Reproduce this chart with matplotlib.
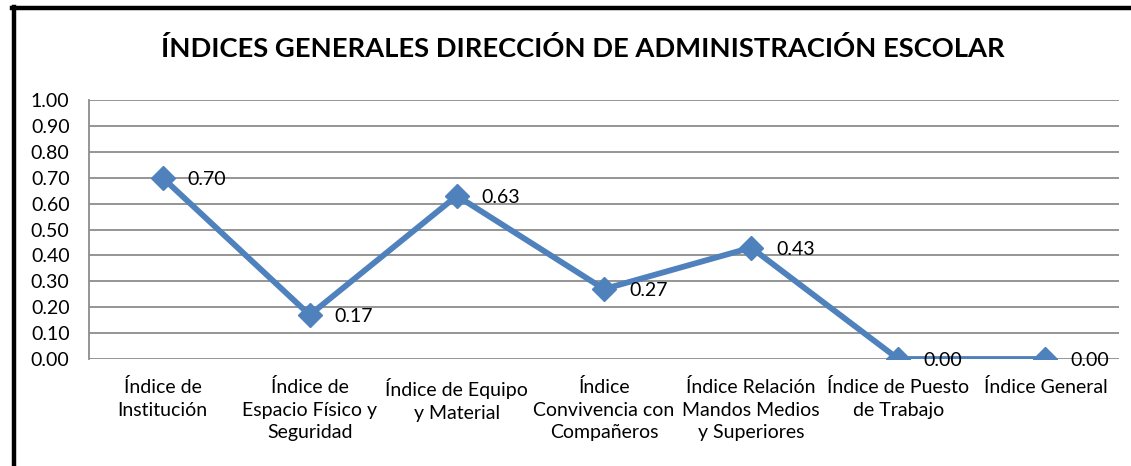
import matplotlib
matplotlib.use("Agg")
import matplotlib.pyplot as plt
from matplotlib.lines import Line2D

plt.rcParams['font.family'] = ['Lato', 'DejaVu Sans']

# data
categories = [
    "Índice de\nInstitución",
    "Índice de\nEspacio Físico y\nSeguridad",
    "Índice de Equipo\ny Material",
    "Índice\nConvivencia con\nCompañeros",
    "Índice Relación\nMandos Medios\ny Superiores",
    "Índice de Puesto\nde Trabajo",
    "Índice General",
]
values = [0.70, 0.17, 0.63, 0.27, 0.43, 0.00, 0.00]
yticks = [0.0, 0.1, 0.2, 0.3, 0.4, 0.5, 0.6, 0.7, 0.8, 0.9, 1.0]

blue = "#4F81BD"
grid = "#8C8C8C"

fig = plt.figure(figsize=(11.31, 4.66), dpi=100)
ax = fig.add_axes([0.0787, 0.2296, 0.9107, 0.5558])

x = list(range(len(values)))
ax.plot(x, values, color=blue, lw=4.2, marker="D", ms=12, zorder=3)
for xi, v in zip(x, values):
    ax.annotate(f"{v:.2f}", (xi, v), xytext=(18, -1), textcoords="offset points",
                va="center", ha="left", fontsize=14, color="black", zorder=4)

ax.set_xlim(-0.5, len(values) - 0.5)
ax.set_ylim(0, 1.0)
ax.set_yticks(yticks)
ax.set_yticklabels([f"{t:.2f}" for t in yticks], fontsize=14)
ax.set_xticks(x)
ax.set_xticklabels(categories, fontsize=14, linespacing=1.38, va="top")
ax.tick_params(length=0)
ax.tick_params(axis="y", pad=14)
ax.tick_params(axis="x", pad=14)
ax.yaxis.grid(True, color=grid, lw=1.3)
ax.set_axisbelow(True)
for s in ["top", "right", "bottom"]:
    ax.spines[s].set_visible(False)
ax.spines["left"].set_color(grid)
ax.spines["left"].set_linewidth(1.3)

fig.text(0.515, 0.895, "ÍNDICES GENERALES DIRECCIÓN DE ADMINISTRACIÓN ESCOLAR",
         ha="center", va="center", fontsize=19.7, fontweight="bold")

# outer frame (left and top edges visible)
fig.add_artist(Line2D([0.0120, 0.0120], [0, 0.985], transform=fig.transFigure,
                      color="black", lw=3.2))
fig.add_artist(Line2D([0.0106, 1.0], [0.983, 0.983], transform=fig.transFigure,
                      color="black", lw=3.2))

fig.savefig("out.png", dpi=100)
